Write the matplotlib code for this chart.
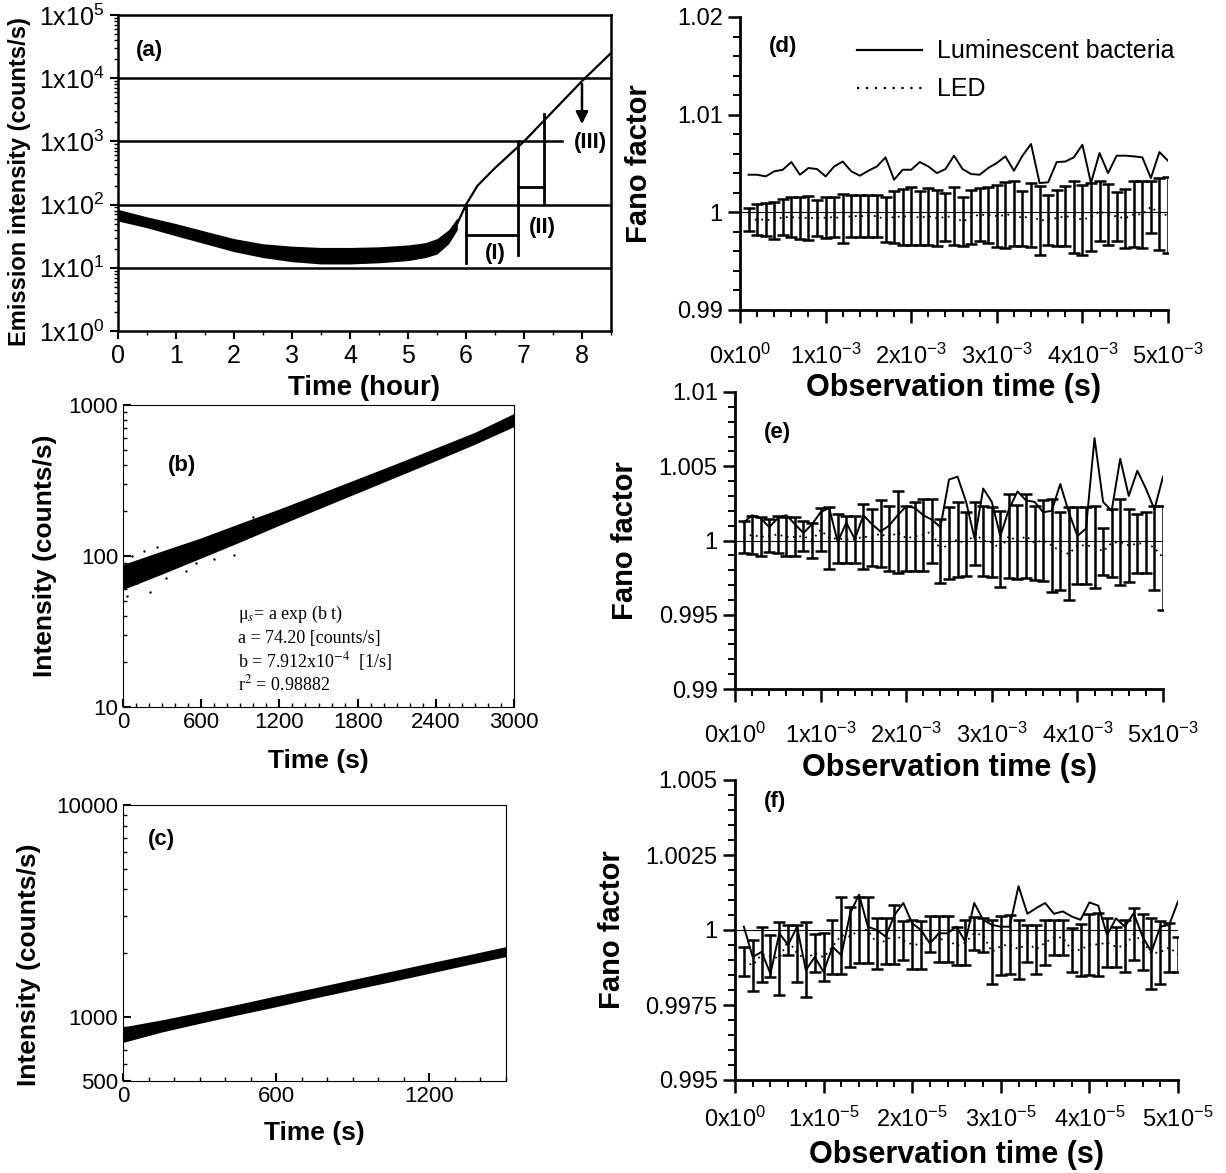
import matplotlib
matplotlib.use('Agg')
import matplotlib.pyplot as plt
from matplotlib.lines import Line2D
from matplotlib.ticker import MultipleLocator, LogLocator, NullFormatter, FuncFormatter
import numpy as np

plt.rcParams['font.family'] = ['Liberation Sans', 'DejaVu Sans']
plt.rcParams['mathtext.fontset'] = 'custom'
plt.rcParams['mathtext.rm'] = 'Liberation Sans'
plt.rcParams['mathtext.it'] = 'Liberation Sans:italic'
plt.rcParams['mathtext.bf'] = 'Liberation Sans:bold'

# %% Data
# (a) emission intensity over the whole culture (cloud = lo/hi band, then growth line)
a_t = [0, 0.5, 1, 1.5, 2, 2.5, 3, 3.5, 4, 4.5, 5, 5.3, 5.5, 5.7, 5.85]
a_lo = [55, 43, 32, 24, 18, 14.5, 12.5, 11.5, 11.5, 12, 13, 14.5, 16.5, 24, 40]
a_hi = [84, 64, 50, 38, 29, 24, 22, 21, 21, 21.5, 23, 25, 29, 40, 62]
a_line_t = [5.6, 5.85, 6.0, 6.2, 6.5, 7.0, 7.5, 8.0, 8.5]
a_line_y = [28, 50, 100, 200, 380, 1000, 3000, 9000, 25000]
a_hlines = [10, 100, 1000, 10000]
a_hline_end = [8.5, 8.5, 7.66, 8.5]
a_ytick_labels = [r'$\mathregular{1x10^{%d}}$' % k for k in range(6)]

# brackets (I), (II) and arrow (III) in panel (a)
a_brk_x = [[6.0, 6.0], [6.0, 6.9], [6.9, 6.9], [6.9, 7.35], [7.35, 7.35]]
a_brk_y = [[12, 100], [33, 33], [16, 1000], [190, 190], [105, 2700]]

# (b) intensity vs time (first 3000 s of growth)
b_t = [0, 300, 600, 900, 1200, 1500, 1800, 2100, 2400, 2700, 3000]
b_lo = [60, 76, 97, 124, 160, 205, 262, 335, 428, 550, 720]
b_hi = [88, 108, 132, 165, 205, 258, 325, 410, 520, 660, 880]
b_out_t = [30, 70, 110, 160, 210, 260, 330, 480, 560, 700, 850, 1000]
b_out_y = [54, 100, 66, 108, 58, 114, 72, 80, 90, 96, 102, 180]

# (c) intensity vs time
c_t = [0, 150, 300, 450, 600, 750, 900, 1050, 1200, 1350, 1500]
c_lo = [760, 850, 935, 1025, 1120, 1230, 1345, 1470, 1610, 1765, 1930]
c_hi = [900, 970, 1055, 1150, 1260, 1375, 1505, 1645, 1800, 1965, 2150]

# (d)-(f) Fano factor vs observation time, 50 points each
d_x = np.arange(1, 51) * 1e-4
d_bac = [1.00385, 1.00385, 1.00368, 1.0042, 1.00436, 1.00515, 1.00385, 1.00454, 1.00443, 1.00368,
         1.0047, 1.0052, 1.0042, 1.00375, 1.00426, 1.0047, 1.00563, 1.00334, 1.00436, 1.00436,
         1.00515, 1.0047, 1.00402, 1.00443, 1.0058, 1.00443, 1.00392, 1.00385, 1.00454, 1.00505,
         1.00573, 1.00426, 1.0058, 1.007, 1.003, 1.00307, 1.00515, 1.0052, 1.00563, 1.00692,
         1.003, 1.00607, 1.00402, 1.0058, 1.0058, 1.00573, 1.00563, 1.00351, 1.00617, 1.00528]
d_led = [0.99925, 0.99925, 0.99925, 0.99918, 0.99951, 0.99951, 0.99944, 0.99942, 0.99942, 0.99945,
         0.99951, 0.99937, 0.99962, 0.99962, 0.99962, 0.99962, 0.99923, 0.99954, 0.99956, 0.99962,
         0.99945, 0.99959, 0.99942, 0.99951, 0.99962, 0.99903, 0.99954, 0.99976, 0.99971, 0.99962,
         0.99971, 0.99985, 0.99937, 0.99971, 0.99916, 0.99925, 0.99942, 0.99959, 0.99951, 0.99925,
         0.99951, 1.0001, 0.9998, 0.99957, 0.99939, 0.9998, 0.9998, 1.00056, 0.99985, 0.99971]
d_err = [0.00119, 0.0016, 0.0017, 0.00188, 0.00186, 0.00203, 0.00213, 0.00222, 0.00188, 0.00208,
         0.00206, 0.00251, 0.00218, 0.00218, 0.00218, 0.00218, 0.0023, 0.00268, 0.00286, 0.00293,
         0.00276, 0.0029, 0.0029, 0.00247, 0.00293, 0.00251, 0.00278, 0.00273, 0.00285, 0.0032,
         0.00336, 0.00332, 0.00285, 0.00329, 0.0035, 0.00256, 0.0029, 0.00307, 0.00367, 0.00358,
         0.0035, 0.00307, 0.0031, 0.00247, 0.00303, 0.00338, 0.00344, 0.00268, 0.00367, 0.00387]

e_x = np.arange(1, 51) * 1e-4
e_bac = [1.0012, 1.0017, 1.0015, 1.0009, 1.0015, 1.0017, 1.0011, 1.0005, 1.0011, 1.0019,
         1.0022, 0.9999, 1.0012, 1.0001, 1.0017, 1.0011, 1.0006, 1.001, 1.0017, 1.0023,
         1.0022, 1.0017, 1.0014, 1.0009, 1.0041, 1.0043, 1.0026, 1.0001, 1.0035, 1.0026,
         1.0003, 1.0021, 1.0033, 1.0027, 1.0026, 1.0019, 1.002, 1.0038, 1.0019, 1.0003,
         1.0008, 1.0069, 1.0026, 1.002, 1.0055, 1.003, 1.0047, 1.0035, 1.0021, 1.0043]
e_led = [1.00022, 1.00038, 1.00024, 1.00032, 1.00041, 1.00024, 1.00024, 1.0003, 1.00001, 1.00072,
         1.00015, 1.00013, 1.00007, 1.00007, 1.00026, 1.00021, 1.00047, 1.00015, 1.00057, 1.00015,
         1.00027, 1.00039, 1.00062, 0.99929, 0.99984, 1.00005, 0.99975, 1.00047, 0.99999, 0.99987,
         0.99944, 1.0003, 0.99993, 1.0003, 0.99984, 1.00001, 0.99967, 0.99927, 0.9991, 0.99967,
         0.99967, 0.99959, 0.99927, 0.99984, 0.9999, 0.99967, 0.99978, 0.99984, 0.9995, 0.99885]
e_err = [0.00106, 0.00129, 0.00131, 0.00112, 0.00126, 0.00131, 0.00131, 0.00103, 0.0012, 0.00145,
         0.00209, 0.00166, 0.0016, 0.0016, 0.0022, 0.00192, 0.00223, 0.0022, 0.00274, 0.0022,
         0.00231, 0.00242, 0.00215, 0.00215, 0.0024, 0.00253, 0.00215, 0.00211, 0.00236, 0.00236,
         0.00257, 0.00285, 0.00249, 0.00285, 0.00251, 0.00273, 0.00314, 0.00263, 0.00314, 0.00257,
         0.00257, 0.00276, 0.0016, 0.00228, 0.00291, 0.00245, 0.002, 0.00205, 0.00285, 0.0035]

f_x = np.arange(1, 51) * 1e-6
f_bac = [1.00011, 0.9991, 0.99927, 0.99854, 0.99989, 0.9995, 1.00011, 0.99866, 0.9991, 0.9986,
         0.99944, 0.99916, 1.00056, 1.00118, 1.00011, 1.0, 0.99978, 1.0005, 1.0009, 1.00022,
         1.0, 0.99955, 0.99989, 0.99989, 1.00011, 0.99961, 1.0009, 1.00034, 1.00017, 1.00011,
         1.00011, 1.00146, 1.00054, 1.00073, 1.0009, 1.00054, 1.00062, 1.00045, 1.00034, 1.00092,
         1.00081, 0.99983, 1.00039, 1.00011, 1.00056, 0.99978, 0.99927, 1.00011, 1.00017, 1.00095]
f_led = [0.99896, 0.99882, 0.99919, 0.99913, 0.99905, 0.99966, 0.99922, 0.99902, 0.99924, 0.99909,
         0.99944, 0.99982, 0.99978, 1.0, 1.0, 0.99955, 0.99964, 0.99986, 0.99965, 0.99952,
         0.99951, 0.99986, 0.99969, 0.99969, 0.99947, 0.99958, 0.99989, 0.99983, 0.99927, 0.99947,
         0.99952, 0.99936, 0.99955, 0.99936, 0.99958, 0.99975, 0.99975, 0.99933, 0.99934, 0.99951,
         0.99952, 0.99958, 0.99944, 0.99946, 0.99986, 0.9996, 0.99922, 0.99926, 0.99942, 0.99919]
f_err = [0.00048, 0.00084, 0.00092, 0.0007, 0.0012, 0.0005, 0.00095, 0.00126, 0.00064, 0.0008,
         0.0009, 0.00127, 0.001, 0.00109, 0.00109, 0.00084, 0.00076, 0.00098, 0.00066, 0.00081,
         0.0008, 0.00059, 0.00076, 0.00076, 0.00064, 0.00076, 0.00056, 0.00056, 0.00106, 0.00098,
         0.00098, 0.00098, 0.00062, 0.00081, 0.00076, 0.00059, 0.00059, 0.00073, 0.00086, 0.00102,
         0.00104, 0.00081, 0.00067, 0.00086, 0.00087, 0.00094, 0.00118, 0.00105, 0.00082, 0.00059]

ms_ticks = [0, 1e-3, 2e-3, 3e-3, 4e-3, 5e-3]
ms_labels = [r'$\mathregular{0x10^{0}}$'] + [r'$\mathregular{%dx10^{-3}}$' % k for k in range(1, 6)]
us_ticks = [0, 1e-5, 2e-5, 3e-5, 4e-5, 5e-5]
us_labels = [r'$\mathregular{0x10^{0}}$'] + [r'$\mathregular{%dx10^{-5}}$' % k for k in range(1, 6)]

# %% Figure
W, H = 1226, 1173
fig = plt.figure(figsize=(W / 100, H / 100), dpi=100)


def rect(x0, x1, ytop, ybot):
    return [x0 / W, 1 - ybot / H, (x1 - x0) / W, (ybot - ytop) / H]


def xlabel_at(ax, text, y, size):
    ax.set_xlabel(text, fontsize=size, fontweight='bold')
    ax.xaxis.set_label_coords(0.5, y)
    ax.xaxis.label.set_va('center')


def ylabel_at(ax, text, x, size, y=0.5):
    ax.set_ylabel(text, fontsize=size, fontweight='bold')
    ax.yaxis.set_label_coords(x, y)
    ax.yaxis.label.set_va('center')


# ---- (a)
axA = fig.add_axes(rect(118, 611, 15, 331))
axA.patch.set_visible(False)
axA.set_yscale('log')
axA.fill_between(a_t, a_lo, a_hi, color='k', lw=0)
axA.plot(a_line_t, a_line_y, color='k', lw=1.6)
for v, xe in zip(a_hlines, a_hline_end):
    axA.plot([0, xe], [v, v], color='k', lw=1.8)
for xs, ys in zip(a_brk_x, a_brk_y):
    axA.plot(xs, ys, color='k', lw=2)
axA.annotate('', xy=(8.0, 1700), xytext=(8.0, 9000),
             arrowprops=dict(arrowstyle='-|>', color='k', lw=1.8, mutation_scale=18))
axA.text(6.5, 17, '(I)', fontsize=16, fontweight='bold', ha='center', va='center')
axA.text(7.32, 44, '(II)', fontsize=16, fontweight='bold', ha='center', va='center')
axA.text(8.15, 950, '(III)', fontsize=16, fontweight='bold', ha='center', va='center')
axA.text(0.3, 27000, '(a)', fontsize=16, fontweight='bold', ha='left', va='center')
axA.set_xlim(0, 8.5)
axA.set_ylim(1, 1e5)
axA.set_xticks(range(9))
axA.xaxis.set_minor_locator(MultipleLocator(0.5))
axA.set_yticks([10 ** k for k in range(6)], a_ytick_labels)
axA.yaxis.set_minor_locator(LogLocator(base=10, subs=np.arange(2, 10)))
axA.yaxis.set_minor_formatter(NullFormatter())
axA.tick_params(labelsize=18, width=1.5, length=6, direction='out')
axA.tick_params(which='minor', width=1, length=3, direction='out')
xlabel_at(axA, 'Time (hour)', -0.18, 20)
for s in axA.spines.values():
    s.set_linewidth(1.8)
fig.text(20 / W, 1 - 346 / H, 'Emission intensity (counts/s)', rotation=90,
         fontsize=17, fontweight='bold', ha='center', va='bottom')

# ---- (b)
axB = fig.add_axes(rect(123, 514, 405, 707))
axB.patch.set_visible(False)
axB.set_yscale('log')
axB.fill_between(b_t, b_lo, b_hi, color='k', lw=0)
axB.scatter(b_out_t, b_out_y, s=3, color='k', lw=0)
axB.set_xlim(0, 3000)
axB.set_ylim(10, 1000)
axB.set_xticks([0, 600, 1200, 1800, 2400, 3000])
axB.xaxis.set_minor_locator(MultipleLocator(100))
axB.set_yticks([10, 100, 1000], ['10', '100', '1000'])
axB.yaxis.set_minor_locator(LogLocator(base=10, subs=np.arange(2, 10)))
axB.yaxis.set_minor_formatter(NullFormatter())
axB.tick_params(labelsize=16, width=1.5, length=6, direction='in')
axB.tick_params(which='minor', width=1, length=3, direction='in')
xlabel_at(axB, 'Time (s)', -0.18, 19)
ylabel_at(axB, 'Intensity (counts/s)', -0.2, 19)
axB.text(0.15, 0.8, '(b)', transform=axB.transAxes, fontsize=16, fontweight='bold',
         ha='center', va='center')
eq_lines = [r'μ$_s$= a exp (b t)', 'a = 74.20 [counts/s]',
            r'b = 7.912x10$^{-4}$  [1/s]', r'r$^2$ = 0.98882']
eq_y = [0.305, 0.228, 0.152, 0.076]
for line, yy in zip(eq_lines, eq_y):
    axB.text(0.294, yy, line, transform=axB.transAxes, fontsize=13,
             family='Liberation Serif', math_fontfamily='stix', ha='left', va='center')

# ---- (c)
axC = fig.add_axes(rect(123, 506, 805, 1081))
axC.patch.set_visible(False)
axC.set_yscale('log')
axC.fill_between(c_t, c_lo, c_hi, color='k', lw=0)
axC.set_xlim(0, 1500)
axC.set_ylim(500, 10000)
axC.set_xticks([0, 600, 1200])
axC.xaxis.set_minor_locator(MultipleLocator(100))
axC.set_yticks([500, 1000, 10000], ['500', '1000', '10000'])
axC.yaxis.set_minor_locator(LogLocator(base=10, subs=np.arange(2, 10)))
axC.yaxis.set_minor_formatter(NullFormatter())
axC.tick_params(labelsize=16, width=1.5, length=6, direction='in')
axC.tick_params(which='minor', width=1, length=3, direction='in')
xlabel_at(axC, 'Time (s)', -0.19, 19)
ylabel_at(axC, 'Intensity (counts/s)', -0.245, 19, y=0.42)
axC.text(0.1, 0.875, '(c)', transform=axC.transAxes, fontsize=16, fontweight='bold',
         ha='center', va='center')


# ---- (d)-(f)
def fano_panel(ax, x, bac, led, err, ylim, ymajor, yminor, xticks, xlabels, xminor,
               letter, lpos, ylab_x, xpad, xlab_y):
    ax.patch.set_visible(False)
    ax.axhline(1, color='k', lw=0.8)
    ax.errorbar(x, led, yerr=err, fmt='none', ecolor='k', elinewidth=1.8,
                capsize=4, capthick=1.8)
    ax.plot(x, led, color='k', lw=1.3, ls=(0, (1, 2.5)))
    ax.plot(x, bac, color='k', lw=1.4)
    ax.set_xlim(0, xticks[-1])
    ax.set_ylim(*ylim)
    ax.set_xticks(xticks, xlabels)
    ax.xaxis.set_minor_locator(MultipleLocator(xminor))
    ax.yaxis.set_major_locator(MultipleLocator(ymajor))
    ax.yaxis.set_minor_locator(MultipleLocator(yminor))
    ax.yaxis.set_major_formatter(FuncFormatter(lambda v, p: '%g' % round(v, 6)))
    ax.tick_params(labelsize=17, width=1.8, length=9, direction='out')
    ax.tick_params(axis='x', pad=xpad, labelsize=17)
    ax.tick_params(which='minor', width=1.4, length=5, direction='out')
    for side in ['top', 'right']:
        ax.spines[side].set_visible(False)
    for side in ['left', 'bottom']:
        ax.spines[side].set_linewidth(2)
    xlabel_at(ax, 'Observation time (s)', xlab_y, 22)
    ylabel_at(ax, 'Fano factor', ylab_x, 21)
    ax.text(lpos[0], lpos[1], letter, transform=ax.transAxes, fontsize=16,
            fontweight='bold', ha='center', va='center')


axD = fig.add_axes(rect(740, 1168, 17, 310))
fano_panel(axD, d_x, d_bac, d_led, d_err, (0.99, 1.02), 0.01, 0.002, ms_ticks, ms_labels,
           0.2e-3, '(d)', (0.1, 0.9), -0.235, 15, -0.265)
handles = [Line2D([], [], color='k', lw=1.6), Line2D([], [], color='k', lw=1.6, ls=(0, (1, 3)))]
axD.legend(handles, ['Luminescent bacteria', 'LED'], loc='upper left',
           bbox_to_anchor=(0.22, 1.0), frameon=False, fontsize=18, handlelength=2.6,
           handletextpad=0.6, labelspacing=0.55)

axE = fig.add_axes(rect(735, 1163, 392, 689))
fano_panel(axE, e_x, e_bac, e_led, e_err, (0.99, 1.01), 0.005, 0.001, ms_ticks, ms_labels,
           0.2e-3, '(e)', (0.1, 0.865), -0.257, 15, -0.265)

axF = fig.add_axes(rect(735, 1178, 780, 1080))
fano_panel(axF, f_x, f_bac, f_led, f_err, (0.995, 1.005), 0.0025, 0.0005, us_ticks, us_labels,
           0.2e-5, '(f)', (0.09, 0.927), -0.278, 10, -0.25)

fig.savefig('out.png', dpi=100)
